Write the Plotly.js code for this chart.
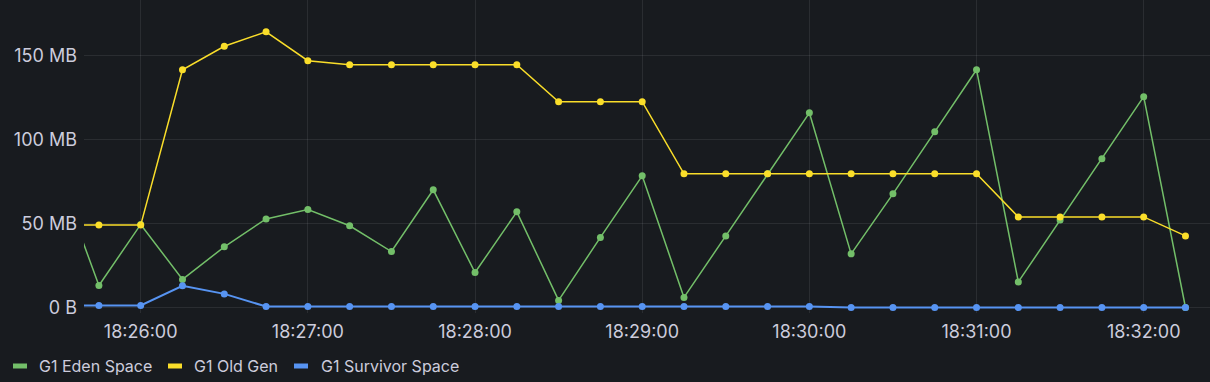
<!DOCTYPE html>
<html>
<head>
<meta charset="utf-8">
<script src="https://cdn.plot.ly/plotly-3.0.1.min.js"></script>
<style>
  html, body { margin: 0; padding: 0; background: #181b1f; }
  #chart { width: 1210px; height: 382px; }
</style>
</head>
<body>
<div id="chart"></div>
<script>
// ---- data ----
const times = [
  "2024-01-01 18:25:30", "2024-01-01 18:25:45",
  "2024-01-01 18:26:00", "2024-01-01 18:26:15", "2024-01-01 18:26:30", "2024-01-01 18:26:45",
  "2024-01-01 18:27:00", "2024-01-01 18:27:15", "2024-01-01 18:27:30", "2024-01-01 18:27:45",
  "2024-01-01 18:28:00", "2024-01-01 18:28:15", "2024-01-01 18:28:30", "2024-01-01 18:28:45",
  "2024-01-01 18:29:00", "2024-01-01 18:29:15", "2024-01-01 18:29:30", "2024-01-01 18:29:45",
  "2024-01-01 18:30:00", "2024-01-01 18:30:15", "2024-01-01 18:30:30", "2024-01-01 18:30:45",
  "2024-01-01 18:31:00", "2024-01-01 18:31:15", "2024-01-01 18:31:30", "2024-01-01 18:31:45",
  "2024-01-01 18:32:00", "2024-01-01 18:32:15"
];
const edenSpace = [81, 13.1, 49.4, 16.7, 36.1, 52.7, 58.3, 48.6, 33.3, 70, 20.8, 56.9, 4.2, 41.7,
  78.3, 6.0, 42.6, 79.5, 115.8, 31.9, 67.6, 104.5, 141.4, 15.2, 52, 88.5, 125.4, 0];
const oldGen = [49, 49, 49, 141.4, 155.4, 164, 146.8, 144.4, 144.4, 144.4, 144.4, 144.4, 122.4, 122.4,
  122.4, 79.5, 79.5, 79.5, 79.5, 79.5, 79.5, 79.5, 79.5, 53.9, 53.9, 53.9, 53.9, 42.6];
const survivorSpace = [1.2, 1.2, 1.2, 12.9, 8.1, 0.6, 0.6, 0.6, 0.6, 0.6, 0.6, 0.6, 0.6, 0.6,
  0.6, 0.6, 0.6, 0.6, 0.6, 0, 0, 0, 0, 0, 0, 0, 0, 0];
const seriesNames = ["G1 Eden Space", "G1 Old Gen", "G1 Survivor Space"];
const yTickVals = [0, 50, 100, 150];
const yTickText = ["0 B", "50 MB", "100 MB", "150 MB"];
const xTickVals = ["2024-01-01 18:26:00", "2024-01-01 18:27:00", "2024-01-01 18:28:00",
  "2024-01-01 18:29:00", "2024-01-01 18:30:00", "2024-01-01 18:31:00", "2024-01-01 18:32:00"];
const xTickText = ["18:26:00", "18:27:00", "18:28:00", "18:29:00", "18:30:00", "18:31:00", "18:32:00"];

// ---- style ----
const colors = ["#73BF69", "#FADE2A", "#5794F2"];
const W = 1210, H = 382;
const M = { l: 84, r: 0, t: 0, b: 69 };
const pw = W - M.l - M.r, ph = H - M.t - M.b;
const px2x = px => (px - M.l) / pw;
const py2y = py => (H - M.b - py) / ph;
const textColor = "#ccccdc";
const gridColor = "rgba(204,204,220,0.10)";
const fontFam = "Inter, 'Noto Sans', sans-serif";
const fs = 18;
const legendFs = 16;

const seriesData = [edenSpace, oldGen, survivorSpace];
const traces = seriesData.map((vals, i) => ({
  type: "scatter",
  mode: "lines+markers",
  x: times,
  y: vals,
  name: seriesNames[i],
  line: { color: colors[i], width: i === 2 ? 2 : 1.5 },
  marker: { color: colors[i], size: 7 },
  showlegend: false,
  cliponaxis: true
}));

// custom legend
const legendSwatchX = [11, 166, 292];
const legendTextX = [37, 192, 319];
const legendY = 366;
const shapes = seriesNames.map((n, i) => ({
  type: "line", xref: "paper", yref: "paper",
  x0: px2x(legendSwatchX[i] + 2), x1: px2x(legendSwatchX[i] + 16),
  y0: py2y(legendY), y1: py2y(legendY),
  line: { color: colors[i], width: 5 }
}));
const annotations = seriesNames.map((n, i) => ({
  xref: "paper", yref: "paper",
  x: px2x(legendTextX[i]), y: py2y(legendY),
  xanchor: "left", yanchor: "middle",
  text: n, showarrow: false,
  font: { family: fontFam, size: legendFs, color: textColor }
}));

const layout = {
  width: W, height: H,
  margin: M,
  paper_bgcolor: "#181b1f",
  plot_bgcolor: "#181b1f",
  font: { family: fontFam, size: fs, color: textColor },
  showlegend: false,
  xaxis: {
    type: "date",
    range: ["2024-01-01 18:25:39.65", "2024-01-01 18:32:23.8"],
    tickvals: xTickVals,
    ticktext: xTickText,
    showgrid: true, gridcolor: gridColor, gridwidth: 1,
    zeroline: false, showline: false,
    ticks: "", ticklabelstandoff: 6,
    tickfont: { family: fontFam, size: fs, color: textColor }
  },
  yaxis: {
    range: [-3.27, 182.9],
    tickvals: yTickVals,
    ticktext: yTickText,
    showgrid: true, gridcolor: gridColor, gridwidth: 1,
    zeroline: false, showline: false,
    ticks: "", ticklabelstandoff: 6,
    tickfont: { family: fontFam, size: fs, color: textColor }
  },
  shapes: shapes,
  annotations: annotations
};

Plotly.newPlot("chart", traces, layout, { displayModeBar: false, staticPlot: true });
</script>
</body>
</html>
